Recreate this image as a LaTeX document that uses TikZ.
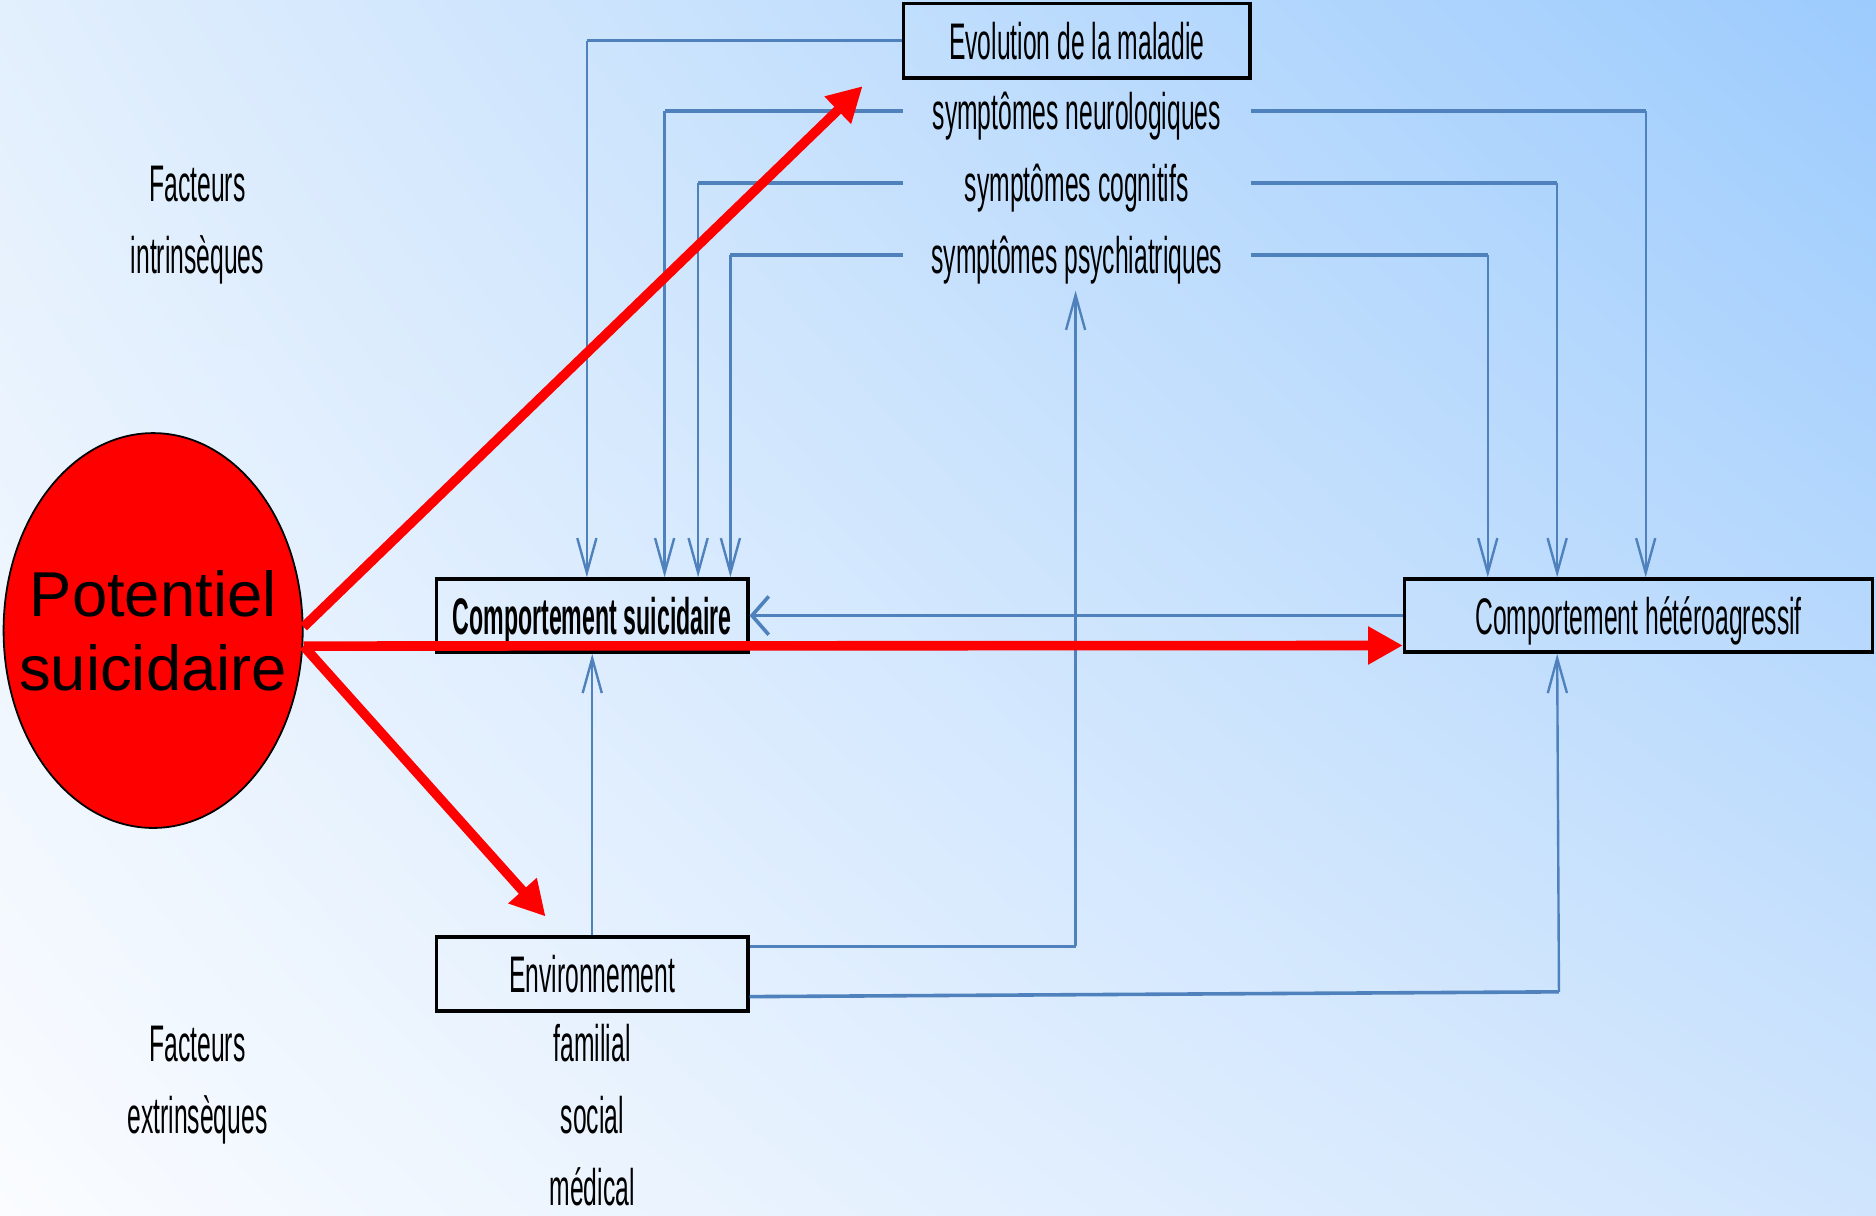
\documentclass[tikz,border=0pt]{standalone}
\usepackage{fontspec}
\setmainfont{Liberation Sans}
\newfontfamily\narrow[FakeStretch=0.48]{Liberation Sans}
\newfontfamily\narrowb[FakeStretch=0.45]{Liberation Sans Bold}
\usetikzlibrary{arrows.meta,shapes.geometric,shadings}
\definecolor{bl}{HTML}{4F81BD}
\definecolor{redarrow}{HTML}{FF0000}
\definecolor{bgul}{RGB}{226,239,253}
\definecolor{bgur}{RGB}{156,203,253}
\definecolor{bgll}{RGB}{250,252,255}
\definecolor{bglr}{RGB}{208,229,253}
\tikzset{
  lbl/.style={font=\narrow\fontsize{43}{50}\selectfont, inner sep=0pt, text height=31pt, text depth=0pt},
  lblb/.style={font=\narrowb\fontsize{43}{50}\selectfont, inner sep=0pt, text height=31pt, text depth=0pt},
  boxn/.style={draw=black, line width=3pt, minimum height=61pt},
  hline/.style={draw=bl, line width=3pt},
  vline/.style={draw=bl, line width=2pt, -{Straight Barb[length=29pt,width=16pt]}},
  redarr/.style={draw=redarrow, line width=8pt, -{Triangle[length=29pt,width=30pt]}},
}
\begin{document}
\begin{tikzpicture}[x=1pt,y=-1pt]
\useasboundingbox (0,0) rectangle (1568,1016);
\shade[upper left=bgul, upper right=bgur, lower left=bgll, lower right=bglr]
  (0,0) rectangle (1568,1016);

% boxes
\node[boxn, lbl, minimum width=290pt, minimum height=62pt] (evol) at (900,34) {Evolution de la maladie};
\node[boxn, lblb, minimum width=260pt] (cs) at (495,514.5) {Comportement suicidaire};
\node[boxn, lbl, minimum width=391pt] (ch) at (1369.5,514.5) {Comportement hétéroagressif};
\node[boxn, lbl, minimum width=260pt, minimum height=62pt] (env) at (495,814) {Environnement};

% texts
\node[lbl, minimum width=290pt] (neuro) at (900,93) {symptômes neurologiques};
\node[lbl, minimum width=290pt] (cog) at (900,153) {symptômes cognitifs};
\node[lbl, minimum width=290pt] (psy) at (900,213) {symptômes psychiatriques};
\node[lbl] (f1) at (165,153) {Facteurs};
\node[lbl] (f2) at (165,213) {intrinsèques};
\node[lbl] (f3) at (165,872) {Facteurs};
\node[lbl] (f4) at (165,932) {extrinsèques};
\node[lbl] (fam) at (495,872) {familial};
\node[lbl] (soc) at (495,932) {social};
\node[lbl] (med) at (495,992) {médical};

\node[ellipse, draw=black, line width=1.5pt, fill=redarrow, minimum width=250pt, minimum height=330pt,
      inner sep=0pt] (pot) at (128,527) {};
\node[align=center, inner sep=0pt, font=\fontsize{53}{62}\selectfont] (pottxt) at (pot.center)
      {Potentiel\\suicidaire};

% corner coordinates
\coordinate (c1) at ([xshift=127pt]cs.north west |- evol.west);
\coordinate (c2) at ([xshift=192pt]cs.north west |- neuro.west);
\coordinate (c3) at ([xshift=220pt]cs.north west |- cog.west);
\coordinate (c4) at ([xshift=247pt]cs.north west |- psy.west);
\coordinate (c5) at ([xshift=203pt]ch.north west |- neuro.east);
\coordinate (c6) at ([xshift=129pt]ch.north west |- cog.east);
\coordinate (c7) at ([xshift=71pt]ch.north west |- psy.east);
\coordinate (psyb) at (899,243);
\coordinate (c8) at (psyb |- 0,791);
\coordinate (c9) at (1303,829);

% blue connectors, left
\draw[hline] (evol.west) -- (c1);
\draw[vline] (c1) -- ([xshift=127pt]cs.north west);
\draw[hline] (neuro.west) -- (c2);
\draw[vline] (c2) -- ([xshift=192pt]cs.north west);
\draw[hline] (cog.west) -- (c3);
\draw[vline] (c3) -- ([xshift=220pt]cs.north west);
\draw[hline] (psy.west) -- (c4);
\draw[vline] (c4) -- ([xshift=247pt]cs.north west);
% blue connectors, right
\draw[hline] (neuro.east) -- (c5);
\draw[vline] (c5) -- ([xshift=203pt]ch.north west);
\draw[hline] (cog.east) -- (c6);
\draw[vline] (c6) -- ([xshift=129pt]ch.north west);
\draw[hline] (psy.east) -- (c7);
\draw[vline] (c7) -- ([xshift=71pt]ch.north west);
% other connectors
\draw[hline, -{Straight Barb[length=14pt,width=32pt]}] (ch.west) -- (cs.east);
\draw[vline] (env.north) -- (cs.south);
\draw[hline] ([yshift=23pt]env.east) -- (c8);
\draw[vline] (c8) -- (psyb);
\draw[hline] ([yshift=-19pt]env.east) -- (c9);
\draw[vline] (c9) -- ([xshift=129pt]ch.south west);

% red arrows
\coordinate (tipA) at (721,72);
\coordinate (tipC) at (456,766);
\draw[redarr] ([yshift=3pt]pot.east) -- (tipA);
\draw[redarr] ([yshift=-13pt]pot.east) -- ([yshift=-25pt]ch.west);
\draw[redarr] ([yshift=-13pt]pot.east) -- (tipC);
\end{tikzpicture}
\end{document}
